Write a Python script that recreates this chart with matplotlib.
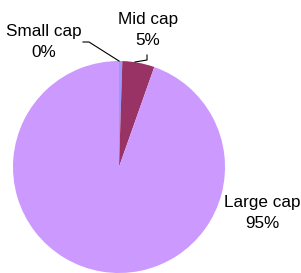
import matplotlib
matplotlib.use("Agg")
import matplotlib.pyplot as plt

# market cap split
categories = ["Small cap", "Mid cap", "Large cap"]
shares = [0.5, 4.9, 94.6]
pct_labels = ["0%", "5%", "95%"]
colors = ["#9999FF", "#993366", "#CC99FF"]

plt.rcParams["font.family"] = ["Liberation Sans", "DejaVu Sans"]

fig = plt.figure(figsize=(3.01, 2.73), dpi=100)
ax = fig.add_axes([0, 0, 1, 1])

# pie centre / radius in pixel units
ax.pie(shares, colors=colors, startangle=90, counterclock=False,
       center=(119, 106), radius=106, wedgeprops={"linewidth": 0},
       frame=True)
ax.set_xlim(0, 301)
ax.set_ylim(0, 273)
ax.set_aspect("equal")
ax.axis("off")

# labels
label_pos = [(44, 231), (148, 243), (262, 60)]
for name, pct, (x, y) in zip(categories, pct_labels, label_pos):
    ax.text(x, y, name + "\n" + pct, ha="center", va="center",
            fontsize=12.3, linespacing=1.45, color="black")

# leader lines
ax.plot([83, 89, 119], [231, 231, 212], color="black", lw=0.8)
ax.plot([135, 147, 147], [211, 213, 218], color="black", lw=0.8)

fig.savefig("out.png", dpi=100)
